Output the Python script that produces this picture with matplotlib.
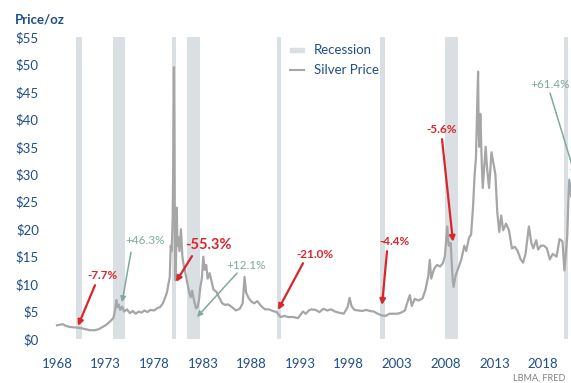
import matplotlib.pyplot as plt

plt.rcParams.update({
    "font.family": ["Lato", "DejaVu Sans"],
    "font.size": 9,
})

###############################################################################

BLUE = "#1f4e89"
GREY = "#a6a6a6"
BAND = "#dadfe3"
RED = "#d9262b"
GREEN = "#7fa99b"

# silver price, $/oz
years = [
    1968.0, 1968.3, 1968.6, 1968.9, 1969.3, 1969.8, 1970.4, 1970.9, 1971.4, 1971.9,
    1972.3, 1972.7, 1973.0, 1973.4, 1973.8, 1974.0, 1974.1, 1974.2, 1974.35, 1974.5,
    1974.7, 1974.9, 1975.2, 1975.5, 1975.8, 1976.1, 1976.4, 1976.7, 1977.0, 1977.3,
    1977.6, 1978.0, 1978.3, 1978.6, 1978.9, 1979.3, 1979.6, 1979.7, 1979.8, 1979.9,
    1979.95, 1980.03, 1980.08, 1980.12, 1980.18, 1980.25, 1980.33, 1980.38, 1980.45, 1980.6,
    1980.75, 1980.9, 1981.0, 1981.2, 1981.4, 1981.6, 1981.75, 1981.9, 1982.1, 1982.3,
    1982.45, 1982.6, 1982.75, 1982.9, 1983.05, 1983.2, 1983.35, 1983.5, 1983.7, 1983.9,
    1984.1, 1984.4, 1984.7, 1985.0, 1985.3, 1985.6, 1986.0, 1986.4, 1986.8, 1987.1,
    1987.3, 1987.45, 1987.7, 1988.0, 1988.3, 1988.6, 1989.0, 1989.4, 1989.8, 1990.2,
    1990.6, 1991.0, 1991.4, 1991.8, 1992.3, 1992.8, 1993.3, 1993.6, 1993.9, 1994.2,
    1994.6, 1995.0, 1995.4, 1995.8, 1996.2, 1996.6, 1997.0, 1997.5, 1997.9, 1998.1,
    1998.3, 1998.6, 1999.0, 1999.4, 1999.8, 2000.2, 2000.6, 2001.0, 2001.4, 2001.8,
    2002.2, 2002.6, 2003.0, 2003.4, 2003.8, 2004.0, 2004.3, 2004.5, 2004.8, 2005.2,
    2005.6, 2005.9, 2006.2, 2006.35, 2006.5, 2006.8, 2007.1, 2007.4, 2007.7, 2007.9,
    2008.15, 2008.3, 2008.5, 2008.7, 2008.8, 2009.0, 2009.3, 2009.6, 2009.9, 2010.1,
    2010.4, 2010.6, 2010.8, 2010.95, 2011.1, 2011.25, 2011.32, 2011.38, 2011.45, 2011.55,
    2011.7, 2011.8, 2011.9, 2012.1, 2012.25, 2012.45, 2012.7, 2012.9, 2013.1, 2013.3,
    2013.5, 2013.7, 2013.9, 2014.2, 2014.5, 2014.8, 2015.1, 2015.4, 2015.7, 2015.95,
    2016.2, 2016.55, 2016.8, 2017.0, 2017.3, 2017.5, 2017.8, 2018.1, 2018.4, 2018.7,
    2019.0, 2019.4, 2019.7, 2020.0, 2020.2, 2020.35, 2020.5, 2020.6, 2020.7, 2020.9,
]
price = [
    2.5, 2.6, 2.7, 2.4, 2.2, 2.1, 2.0, 1.8, 1.6, 1.6,
    1.8, 2.2, 2.5, 3.1, 3.8, 5.5, 7.1, 5.8, 6.3, 5.3,
    5.9, 5.0, 5.4, 4.7, 5.1, 4.6, 5.0, 4.8, 5.2, 4.9,
    5.3, 5.2, 5.6, 5.8, 6.5, 8.4, 11.3, 17.0, 16.0, 22.0,
    30.0, 49.5, 35.0, 20.0, 10.7, 15.0, 23.9, 17.0, 18.6, 16.0,
    20.0, 15.0, 13.8, 12.0, 10.2, 8.5, 7.6, 8.8, 7.0, 5.6,
    5.8, 7.0, 9.5, 11.0, 15.0, 12.6, 13.5, 11.0, 12.0, 10.5,
    9.0, 8.6, 7.5, 6.5, 6.2, 6.3, 5.8, 5.2, 5.5, 6.5,
    11.3, 8.5, 7.5, 6.8, 6.5, 6.9, 6.0, 5.4, 5.4, 5.1,
    4.9, 4.0, 4.2, 4.0, 4.0, 3.8, 5.0, 4.6, 5.2, 5.4,
    5.3, 4.9, 5.5, 5.2, 5.4, 5.0, 4.8, 4.6, 5.8, 7.5,
    6.0, 5.3, 5.2, 5.1, 5.3, 5.1, 5.0, 4.6, 4.3, 4.2,
    4.6, 4.6, 4.6, 4.8, 5.2, 6.4, 8.0, 6.0, 7.3, 7.0,
    7.4, 8.9, 11.5, 14.4, 11.0, 12.8, 13.5, 13.2, 13.8, 15.0,
    20.5, 17.0, 17.5, 11.0, 9.5, 11.5, 13.0, 14.5, 17.0, 16.0,
    18.5, 19.0, 24.0, 29.5, 33.0, 44.0, 48.7, 38.0, 35.0, 41.0,
    32.0, 27.5, 30.0, 35.0, 31.0, 27.5, 34.0, 32.0, 30.0, 23.0,
    19.5, 22.5, 19.8, 21.0, 19.8, 16.5, 16.8, 16.0, 14.5, 13.9,
    15.5, 20.5, 17.5, 16.5, 18.0, 16.3, 17.0, 17.0, 16.5, 14.5,
    15.5, 15.0, 18.2, 17.8, 12.5, 15.5, 19.0, 25.0, 29.0, 26.0,
]

# recessions (start, end)
rec_start = [1969.95, 1973.76, 1979.83, 1981.4, 1990.63, 2001.23, 2007.92, 2020.2]
rec_end = [1970.57, 1975.0, 1980.22, 1982.7, 1991.05, 2001.75, 2009.25, 2020.6]

labels = ["-7.7%", "+46.3%", "-55.3%", "+12.1%", "-21.0%", "-4.4%", "-5.6%", "+61.4%"]
year_ticks = list(range(1968, 2019, 5))
price_ticks = list(range(0, 56, 5))

###############################################################################

fig = plt.figure(figsize=(5.71, 3.83), dpi=100)
ax = fig.add_axes([50 / 571, 44 / 383, 521 / 571, 302 / 383])

for s, e in zip(rec_start, rec_end):
    ax.axvspan(s, e, color=BAND, lw=0, zorder=0)

ax.plot(years, price, color=GREY, lw=1.6, zorder=2)

ax.set_xlim(1967.28, 2020.88)
ax.set_ylim(0, 55)
ax.set_xticks(year_ticks)
ax.set_yticks(price_ticks)
ax.set_yticklabels([f"${p}" for p in price_ticks])
ax.tick_params(length=0, colors=BLUE, labelsize=9.5)
ax.tick_params(axis="x", pad=14)
ax.tick_params(axis="y", pad=8)
for sp in ax.spines.values():
    sp.set_visible(False)

fig.text(15 / 571, 1 - 20 / 383, "Price/oz", color=BLUE, fontsize=9.5,
         fontweight="bold", va="center", ha="left")
fig.text(565 / 571, 1 - 378 / 383, "LBMA, FRED", color="#7f7f7f", fontsize=6.5,
         va="center", ha="right")

# legend
ax.add_patch(plt.Rectangle((1992.0, 52.3), 1.4, 0.7, color=BAND, clip_on=False))
ax.plot([1992.0, 1993.4], [49.0, 49.0], color=GREY, lw=1.5)
ax.text(1994.4, 52.6, "Recession", color=BLUE, fontsize=9.5, va="center")
ax.text(1994.4, 49.0, "Silver Price", color=BLUE, fontsize=9.5, va="center")

# annotations: (text pos, arrow start, arrow tip, colour)
notes = [
    ((1972.73, 11.5), (1971.91, 9.8), (1970.16, 2.4), RED),
    ((1977.05, 18.0), (1975.61, 15.8), (1974.69, 6.7), GREEN),
    ((1983.53, 17.1), (1981.89, 15.1), (1980.24, 10.4), RED),
    ((1987.44, 13.3), (1986.52, 12.0), (1982.40, 4.0), GREEN),
    ((1994.54, 15.3), (1993.31, 13.8), (1990.74, 5.3), RED),
    ((2002.77, 17.7), (2001.95, 16.0), (2001.44, 6.2), RED),
    ((2007.61, 38.1), (2007.61, 36.4), (2008.74, 17.7), RED),
    ((2016.66, 46.4), (2018.72, 44.8), (2021.29, 29.9), GREEN),
]
for lab, (tp, st, tip, col) in zip(labels, notes):
    big = lab == "-55.3%"
    ha = "left" if lab == "+61.4%" else "center"
    ax.text(tp[0], tp[1], lab, color=col, ha=ha, va="center",
            fontsize=10.5 if big else 8.5,
            fontweight="bold" if (col == RED) else "normal", clip_on=False)
    ax.annotate("", xy=tip, xytext=st, annotation_clip=False,
                arrowprops=dict(arrowstyle="-|>", color=col, lw=1.6 if col == RED else 1.1,
                                mutation_scale=8, shrinkA=0, shrinkB=0))

plt.savefig("out.png", dpi=100)
